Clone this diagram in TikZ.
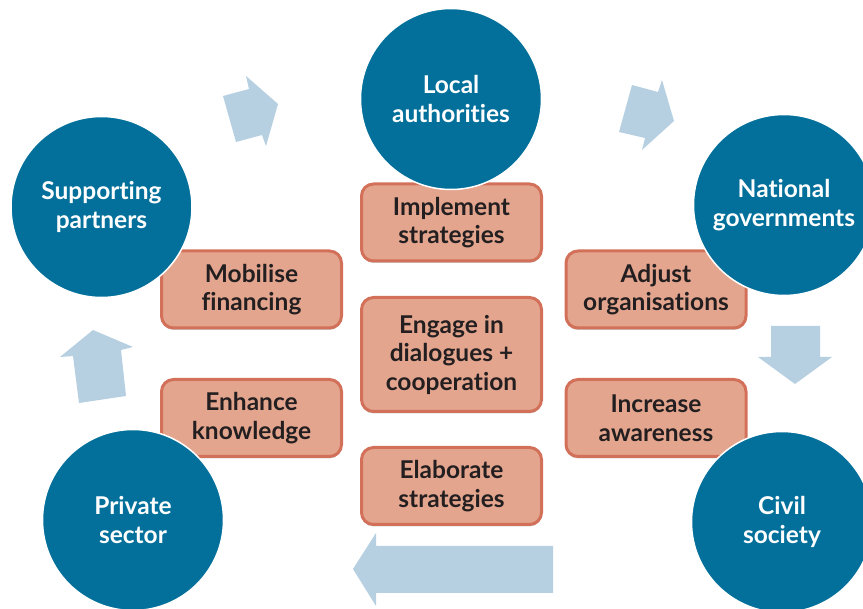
\documentclass[tikz,border=0pt]{standalone}
\usepackage{fontspec}
\setmainfont{Lato}[Ligatures={NoCommon}]
\usetikzlibrary{shadows}
\definecolor{actorblue}{HTML}{03709B}
\definecolor{taskfill}{HTML}{E4A58E}
\definecolor{taskedge}{HTML}{D2705A}
\definecolor{flowblue}{HTML}{B6CFE1}
\definecolor{inkdark}{HTML}{231F20}
\begin{document}
\begin{tikzpicture}[x=1pt,y=-1pt,
  actor/.style={circle, fill=actorblue, draw=white, line width=1.5pt,
    minimum size=181pt, inner sep=0pt, align=center, text=white,
    font=\fontsize{24.5}{28.5}\selectfont\bfseries},
  task/.style={rounded corners=12pt, fill=taskfill, draw=taskedge, line width=3pt,
    minimum width=180pt, minimum height=77pt, inner sep=2pt, align=center, text=inkdark,
    font=\fontsize{24.5}{28.5}\selectfont\bfseries,
    drop shadow={shadow xshift=0pt, shadow yshift=-2pt, opacity=0.2, fill=black}},
  flow/.style={fill=flowblue, draw=none}]
\useasboundingbox (0,0) rectangle (863,609);

% cycle arrows between the actors
\fill[flow] (223,96) -- (249,89) -- (246,76) -- (278,104) -- (266,146) -- (262,135) -- (236,142) -- cycle;
\fill[flow] (632,85) -- (658,92) -- (662,80) -- (674,121) -- (642,150) -- (645,138) -- (619,132) -- cycle;
\fill[flow] (771,326) -- (820,326) -- (820,357) -- (832,357) -- (795,384) -- (758,357) -- (771,357) -- cycle;
\fill[flow] (553,546) -- (376,546) -- (376,533) -- (353,569) -- (376,606) -- (376,593) -- (553,593) -- cycle;
\fill[flow] (79,403) -- (73,356) -- (60,357) -- (93,330) -- (133,347) -- (121,350) -- (126,396) -- cycle;

% activities
\node[task] (impl) at (451.5,222.5) {Implement\\strategies};
\node[task] (mobil) at (251.5,289.5) {Mobilise\\financing};
\node[task] (adjust) at (656,289.5) {Adjust\\organisations};
\node[task, minimum height=114pt] (engage) at (451.5,354.5) {Engage in\\dialogues +\\cooperation};
\node[task] (enhance) at (251.5,418) {Enhance\\knowledge};
\node[task] (aware) at (656,418) {Increase\\awareness};
\node[task] (elab) at (451.5,486) {Elaborate\\strategies};

% actors
\node[actor] (local) at (451,99) {Local\\authorities};
\node[actor] (support) at (101.5,207) {Supporting\\partners};
\node[actor] (national) at (784,205) {National\\governments};
\node[actor] (private) at (133,520) {Private\\sector};
\node[actor] (civil) at (782,522) {Civil\\society};
\end{tikzpicture}
\end{document}
